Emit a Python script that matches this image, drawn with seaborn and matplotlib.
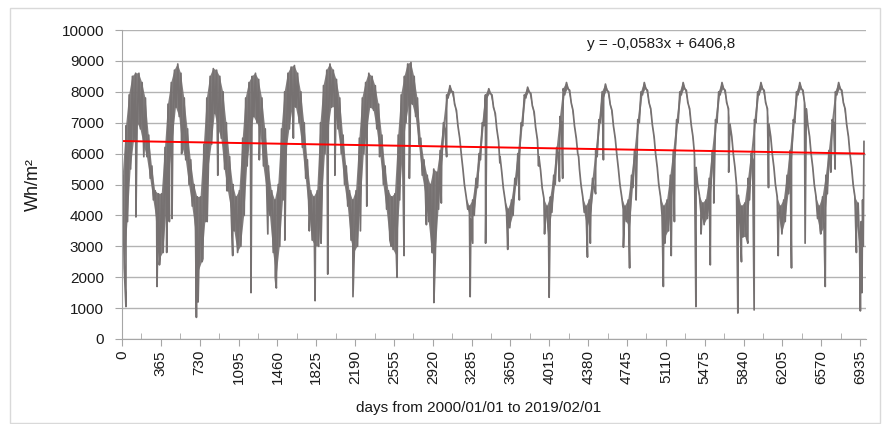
import numpy as np
import pandas as pd
import matplotlib
matplotlib.use("Agg")
import matplotlib.pyplot as plt
import seaborn as sns
from matplotlib.patches import Rectangle

# daily irradiation, kept as monthly upper / lower envelope (Wh/m2)
years = list(range(2000, 2019))
upper_env = [
    [5300, 6900, 7900, 8500, 8600, 8600, 8300, 7800, 6600, 5600, 4800, 4700],  # 2000
    [4700, 6200, 7600, 8300, 8700, 8900, 8600, 7800, 6800, 5800, 5000, 4600],
    [4600, 6300, 7800, 8500, 8750, 8700, 8500, 8000, 7000, 5900, 5000, 4600],
    [4800, 6500, 7800, 8300, 8500, 8600, 8400, 7800, 6800, 5600, 4800, 4500],
    [5000, 6800, 8000, 8600, 8800, 8850, 8600, 8000, 7000, 5800, 4800, 4600],
    [4800, 7000, 8200, 8700, 8900, 8700, 8400, 7800, 6600, 5600, 4800, 4500],
    [4800, 6500, 7800, 8300, 8600, 8500, 8200, 7600, 6600, 5600, 4800, 4600],
    [4700, 6600, 7900, 8500, 8900, 8950, 8500, 7800, 6500, 5800, 5300, 5000],
    [5500, 5400, 6100, 7000, 7900, 8200, 8000, 7400, 6500, 5500, 4600, 4300],  # 2008
    [4500, 5200, 6000, 7000, 7900, 8100, 7900, 7300, 6400, 5400, 4500, 4200],
    [4500, 5200, 6000, 7000, 7900, 8150, 7950, 7350, 6450, 5450, 4550, 4300],
    [4600, 5300, 6200, 7200, 8100, 8300, 8050, 7400, 6500, 5500, 4600, 4300],
    [4500, 5200, 6100, 7100, 8000, 8250, 8000, 7400, 6500, 5500, 4600, 4300],
    [4500, 5300, 6100, 7100, 8000, 8300, 8050, 7450, 6550, 5550, 4600, 4300],
    [4500, 5300, 6100, 7100, 8000, 8300, 8050, 7450, 6550, 5550, 4650, 4400],
    [4500, 5200, 6100, 7100, 8000, 8300, 8050, 7450, 6550, 5550, 4650, 4300],
    [4400, 5200, 6000, 7100, 8000, 8300, 8050, 7450, 6550, 5550, 4600, 4300],
    [4500, 5300, 6100, 7100, 8000, 8300, 8050, 7450, 6550, 5550, 4600, 4300],
    [4600, 5300, 6100, 7100, 8000, 8300, 8050, 7450, 6550, 5550, 4600, 4400],  # 2018
]
lower_env = [
    [2300, 3800, 5500, 6400, 7000, 6800, 6300, 5900, 5200, 4500, 3800, 2600],  # 2000
    [2800, 4200, 5500, 6500, 7500, 7200, 6200, 5800, 5000, 4300, 3500, 2200],
    [2500, 3800, 5500, 6300, 7300, 6800, 6500, 5500, 4800, 4200, 3500, 2800],
    [3000, 4000, 5600, 6500, 7200, 7000, 6800, 5600, 4800, 4000, 2800, 2000],
    [3000, 4500, 6000, 6800, 7500, 7500, 7000, 6200, 5200, 4200, 3200, 3000],
    [3000, 4500, 6000, 6800, 7500, 7500, 6800, 6000, 5000, 4300, 3200, 2800],
    [3000, 4500, 6000, 6800, 7500, 7400, 6800, 6000, 5000, 4200, 3200, 2900],
    [2700, 4500, 6000, 7000, 7600, 7600, 7200, 6300, 5300, 4700, 3800, 2800],
    [2600, 4200, 5600, 6800, 7800, 8000, 7600, 6900, 6000, 5000, 4200, 3900],  # 2008
    [4000, 4900, 5800, 6900, 7800, 7950, 7500, 6800, 5900, 4900, 4100, 3600],
    [4000, 5000, 5800, 6900, 7800, 8000, 7550, 6850, 5900, 4900, 4100, 3300],
    [4100, 5000, 6000, 7000, 7900, 8100, 7650, 6900, 6000, 5000, 4100, 3600],
    [4000, 4900, 5900, 7000, 7800, 8050, 7600, 6900, 6000, 5000, 4200, 3800],
    [3600, 4900, 5900, 7000, 7900, 8100, 7650, 6950, 6000, 5000, 4000, 3300],
    [3500, 4600, 5800, 7000, 7900, 8100, 7650, 6950, 6000, 5000, 4100, 3700],
    [3900, 4700, 5800, 7000, 7900, 8100, 7650, 6950, 6000, 5000, 3900, 3300],
    [3300, 4500, 5800, 7000, 7900, 8100, 7650, 6950, 6000, 5000, 4000, 3400],
    [3800, 4700, 5800, 7000, 7900, 8100, 7650, 6950, 6000, 5000, 3900, 3400],
    [3600, 4700, 5800, 7000, 7900, 8100, 7650, 6950, 6000, 5000, 3800, 3000],  # 2018
]
# single cloudy days that drop well below the band
spike_days = [37, 131, 205, 329, 352,
              420, 445, 470, 560, 699, 715,
              760, 800, 900, 985, 1040,
              1212, 1290, 1370, 1440, 1450,
              1530, 1610, 1760, 1814,
              1870, 1933, 2000, 2120, 2170,
              2240, 2300, 2420, 2530, 2584,
              2650, 2700, 2860, 2930,
              3000, 3050, 3271, 3295,
              3416, 3550, 3624,
              3733, 3914, 3970, 4013,
              4110, 4140, 4290, 4373, 4400,
              4450, 4523, 4711,
              4769, 4830, 5086, 5100,
              5160, 5190, 5392, 5440,
              5527, 5560, 5700, 5786, 5820,
              5880, 5939, 6074, 6165,
              6290, 6418, 6560,
              6607, 6660, 6700, 6900, 6937]
spike_vals = [1050, 3950, 5900, 1700, 2400,
              2800, 3800, 3900, 6000, 700, 1200,
              2600, 3800, 5300, 4800, 2700,
              1500, 5800, 3400, 2000, 1650,
              3200, 6500, 3500, 1240,
              3100, 2100, 5300, 4400, 1370,
              3500, 4300, 5900, 3000, 2000,
              2700, 5200, 3700, 1180,
              4400, 5900, 1370, 3100,
              3100, 5700, 2900,
              4500, 5600, 3400, 1350,
              5100, 5200, 5900, 2650, 3100,
              4700, 5800, 2970,
              2300, 4500, 1700, 3100,
              2700, 3800, 1050, 3400,
              2400, 4400, 5400, 840, 2500,
              3100, 940, 4900, 2700,
              2300, 3100, 3500,
              1700, 5400, 5500, 2800, 910]
# January 2019
tail_days = [6945, 6952, 6958, 6964, 6971]
tail_vals = [3800, 1500, 4500, 3000, 6400]

trend_slope = -0.0583
trend_intercept = 6406.8
tick_days = list(range(0, 6936, 365))

origin = pd.Timestamp("2000-01-01")
up_x, up_y, lo_x, lo_y = [], [], [], []
for yi, yr in enumerate(years):
    for m in range(12):
        d0 = (pd.Timestamp(yr, m + 1, 1) - origin).days
        up_x.append(d0 + 7)
        up_y.append(upper_env[yi][m])
        lo_x.append(d0 + 21)
        lo_y.append(lower_env[yi][m])

rows = list(zip(up_x, up_y)) + list(zip(lo_x, lo_y))
rows += list(zip(spike_days, spike_vals))
rows += list(zip(tail_days, tail_vals))
df = pd.DataFrame(rows, columns=["day", "wh"]).sort_values("day")

sns.set_style("white")
plt.rcParams["font.family"] = ["Liberation Sans", "DejaVu Sans"]

line_col = "#767171"
fig = plt.figure(figsize=(8.84, 4.24), dpi=100)
ax = fig.add_axes([122 / 884, 1 - 339 / 424, (866 - 122) / 884, (339 - 30) / 424])

# the day-to-day scatter is so dense that it reads as a band between the envelopes
ax.fill(np.r_[up_x, lo_x[::-1]], np.r_[up_y, lo_y[::-1]],
        color=line_col, alpha=0.9, lw=0)
sns.lineplot(data=df, x="day", y="wh", color=line_col, lw=1.25,
             estimator=None, sort=True, ax=ax)

trend_x = np.array([0, df["day"].max()])
sns.lineplot(x=trend_x, y=trend_intercept + trend_slope * trend_x,
             color="#ff0000", lw=1.4, ax=ax)

eq = f"y = {trend_slope:.4f}x + {trend_intercept:.1f}".replace(".", ",")
ax.text(4370, 9545, eq, fontsize=11, va="center", ha="left", color="#1a1a1a")

ax.set_xlim(0, 6990)
ax.set_ylim(0, 10000)
ax.set_yticks(range(0, 10001, 1000))
ax.set_xticks(tick_days)
ax.set_xticklabels([str(d) for d in tick_days])
ax.set_xticks([d + 182.5 for d in tick_days[:-1]], minor=True)

ax.yaxis.grid(True, color="#b3b3b3", lw=1)
ax.xaxis.grid(False)
ax.set_axisbelow(True)
for s in ["top", "right"]:
    ax.spines[s].set_visible(False)
for s in ["left", "bottom"]:
    ax.spines[s].set_color("#a6a6a6")

ax.tick_params(axis="y", direction="out", length=5, color="#a6a6a6",
               labelsize=11, pad=8, left=True, labelcolor="#1a1a1a")
ax.tick_params(axis="x", which="major", direction="out", length=5, color="#a6a6a6",
               labelsize=11, labelrotation=90, pad=3, bottom=True, labelcolor="#1a1a1a")
ax.tick_params(axis="x", which="minor", direction="in", length=4, color="#a6a6a6",
               bottom=True)

ax.set_ylabel("Wh/m²", fontsize=13, color="#1a1a1a")
ax.yaxis.set_label_coords((42 - 122) / 744, 0.5)
ax.set_xlabel("days from 2000/01/01 to 2019/02/01", fontsize=11, color="#1a1a1a")
ax.xaxis.set_label_coords((479 - 122) / 744, (339 - 401) / 309)

fig.patches.append(Rectangle((10 / 884, 1 - 423 / 424), 870 / 884, 415 / 424,
                             transform=fig.transFigure, fill=False,
                             edgecolor="#d9d9d9", lw=1))

fig.savefig("out.png", dpi=100)
